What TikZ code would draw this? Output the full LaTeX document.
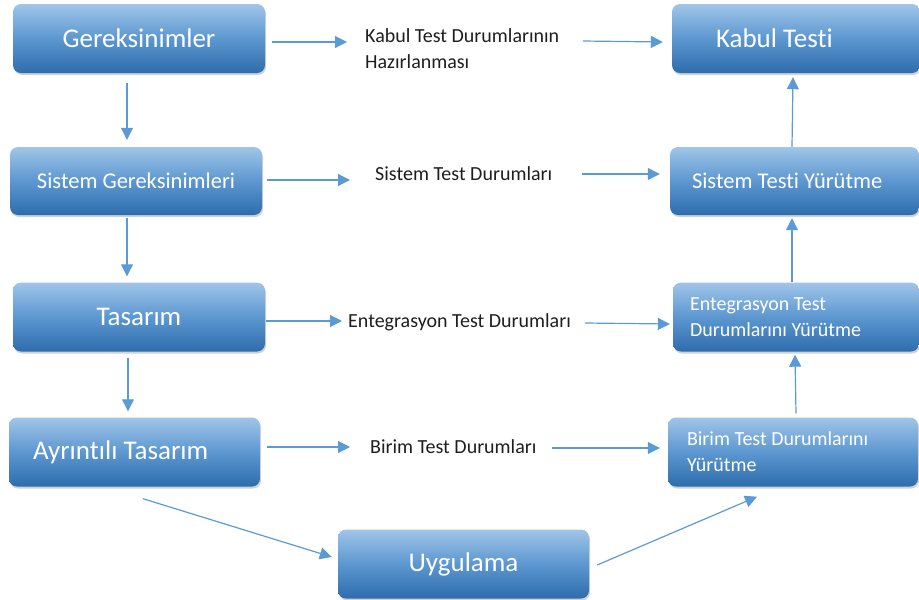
\documentclass[tikz,border=0pt]{standalone}
\usepackage{fontspec}
\setmainfont{Carlito}[Ligatures=NoCommon]
\usetikzlibrary{arrows.meta,shadows}
\definecolor{arrblue}{RGB}{91,155,213}
\definecolor{boxtop}{RGB}{160,197,232}
\definecolor{boxmid}{RGB}{92,151,208}
\definecolor{boxbot}{RGB}{46,108,172}
\definecolor{labtext}{RGB}{30,30,30}
\tikzset{
  box/.style={rectangle, rounded corners=8pt, top color=boxtop, bottom color=boxbot, middle color=boxmid,
    minimum width=251pt, minimum height=68pt, inner sep=0pt, text=white,
    drop shadow={shadow xshift=1pt, shadow yshift=-2pt, opacity=0.3, fill=black!60}},
  bigtxt/.style={font=\fontsize{27}{32}\selectfont},
  medtxt/.style={font=\fontsize{22.5}{27}\selectfont},
  smalltxt/.style={font=\fontsize{20}{26}\selectfont},
  lefttxt/.style 2 args={align=flush left, inner xsep=#1, text width=#2},
  lab/.style={inner sep=0pt, text=labtext, align=flush left, font=\fontsize{20}{26}\selectfont},
  arr/.style={draw=arrblue, line width=1.2pt, -{Triangle[length=12pt,width=12pt]}, arrblue}
}
\begin{document}
\begin{tikzpicture}[x=1pt,y=-1pt]
\useasboundingbox (0,0) rectangle (919,600);
% left column
\node[box,bigtxt, minimum width=252pt, minimum height=69pt] (g) at (139,38.5) {Gereksinimler};
\node[box,medtxt, minimum width=252pt] (sg) at (136,181) {Sistem Gereksinimleri};
\node[box,bigtxt, minimum width=252pt, minimum height=69pt] (ta) at (139,317) {Tasarım};
\node[box,bigtxt, minimum height=69pt, lefttxt={24pt}{203pt}] (at) at (134.5,452) {Ayrıntılı Tasarım};
\node[box,bigtxt, minimum height=69pt] (uy) at (463.5,564) {Uygulama};
% right column
\node[box,bigtxt, minimum width=248pt, minimum height=69pt, lefttxt={44pt}{160pt}] (kt) at (796,38.5) {Kabul Testi};
\node[box,medtxt, minimum width=249pt, lefttxt={22pt}{205pt}] (stt) at (794.5,181) {Sistem Testi Yürütme};
\node[box,smalltxt, minimum width=246pt, minimum height=69pt, lefttxt={17pt}{212pt}] (et) at (796,317) {Entegrasyon Test\\Durumlarını Yürütme};
\node[box,smalltxt, minimum width=250pt, minimum height=69pt, lefttxt={19pt}{212pt}] (btr) at (793,452) {Birim Test Durumlarını\\Yürütme};
% middle labels
\node[lab, anchor=west] (kl) at (365,48.5) {Kabul Test Durumlarının\\Hazırlanması};
\node[lab, anchor=west] (stl) at (375,174) {Sistem Test Durumları};
\node[lab, anchor=west] (etl) at (348,322) {Entegrasyon Test Durumları};
\node[lab, anchor=west] (btl) at (370,447) {Birim Test Durumları};
% arrows
\draw[arr] ([shift={(7,3.5)}]g.east) -- ([shift={(-18,-6.5)}]kl.west);
\draw[arr] ([shift={(-89,2.5)}]kt.west) -- ([shift={(-9,3.5)}]kt.west);
\draw[arr] ([shift={(-12,10)}]g.south) -- ([shift={(-9,-7)}]sg.north);
\draw[arr] ([shift={(-9,3)}]sg.south) -- ([shift={(-12,-6)}]ta.north);
\draw[arr] ([shift={(-11,6)}]ta.south) -- ([shift={(-6.5,-6)}]at.north);
\draw[arr] ([shift={(5,-1)}]sg.east) -- ([shift={(-25,6)}]stl.west);
\draw[arr] ([shift={(-88,-7)}]stt.west) -- ([shift={(-10,-7)}]stt.west);
\draw[arr] ([shift={(1,4)}]ta.east) -- ([shift={(-6,-1)}]etl.west);
\draw[arr] ([shift={(-88,6)}]et.west) -- ([shift={(-3,7)}]et.west);
\draw[arr] ([shift={(7,-5)}]at.east) -- ([shift={(-20,0)}]btl.west);
\draw[arr] ([shift={(-116,-4)}]btr.west) -- ([shift={(-8,-4)}]btr.west);
\draw[arr] ([shift={(8.5,12)}]at.south) -- ([shift={(-6,-7)}]uy.west);
\draw[arr] ([shift={(8,1)}]uy.east) -- ([shift={(-36,10)}]btr.south);
\draw[arr] ([shift={(3,-4)}]btr.north) -- ([shift={(-1,3)}]et.south);
\draw[arr] ([shift={(-4,0)}]et.north) -- ([shift={(-2.5,3)}]stt.south);
\draw[arr] ([shift={(-2.5,0)}]stt.north) -- ([shift={(-3,4)}]kt.south);
\end{tikzpicture}
\end{document}
